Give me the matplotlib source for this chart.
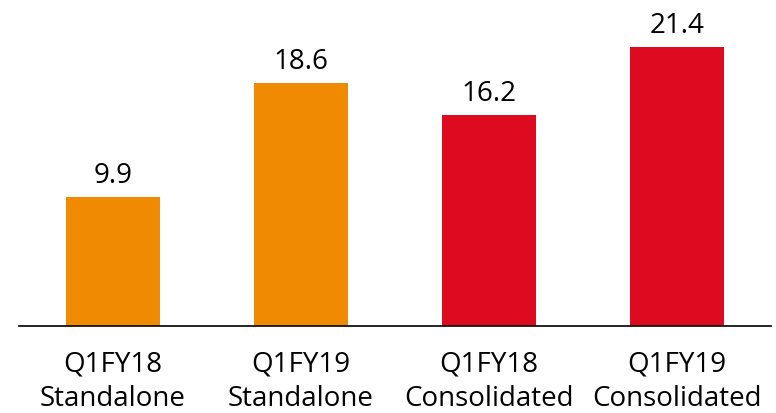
import matplotlib.pyplot as plt

periods = ['Q1FY18', 'Q1FY19', 'Q1FY18', 'Q1FY19']
basis = ['Standalone', 'Standalone', 'Consolidated', 'Consolidated']
values = [9.9, 18.6, 16.2, 21.4]
colors = ['#F08A00', '#F08A00', '#DE0A20', '#DE0A20']

plt.rcParams['font.family'] = ['Open Sans', 'DejaVu Sans']

fig = plt.figure(figsize=(7.76, 4.14), dpi=100)
ax = fig.add_axes([19 / 776, 87 / 414, 752 / 776, 326 / 414])

x = range(len(values))
bars = ax.bar(x, values, width=0.5, color=colors)
for b, v in zip(bars, values):
    ax.annotate(f'{v:.1f}', (b.get_x() + b.get_width() / 2, v),
                xytext=(0, 8), textcoords='offset pixels',
                ha='center', va='bottom', fontsize=20)

ax.set_xlim(-0.5, 3.5)
ax.set_ylim(0, 25)
ax.set_xticks(list(x))
ax.set_xticklabels([f'{p}\n{b}' for p, b in zip(periods, basis)],
                   fontsize=20, linespacing=1.3)
ax.tick_params(axis='x', length=0, pad=17)
ax.set_yticks([])
for s in ['top', 'left', 'right']:
    ax.spines[s].set_visible(False)
ax.spines['bottom'].set_linewidth(1.2)

plt.savefig('out.png', dpi=100)
